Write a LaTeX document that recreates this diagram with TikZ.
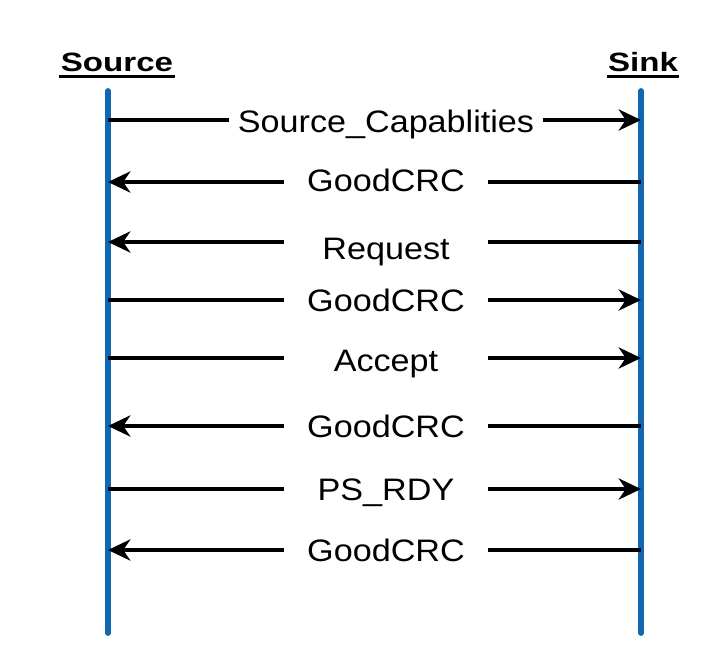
\documentclass[tikz,border=0pt]{standalone}
\usepackage{fontspec}
\newfontfamily\msgfont[FakeStretch=1.1]{Liberation Sans}
\newfontfamily\headfont[FakeStretch=1.25]{Liberation Sans}
\usetikzlibrary{arrows.meta}
\definecolor{lifeblue}{RGB}{16,104,178}

\tikzset{
  lifeline/.style={draw=lifeblue, line width=5pt, line cap=round},
  msgline/.style={draw=black, line width=3.6pt},
  msgarrow/.style={msgline, -{Stealth[length=19pt, width=18pt, inset=6pt]}},
  msglabel/.style={font=\msgfont\fontsize{26.5}{30}\selectfont,
                   inner xsep=0.25cm, inner ysep=0pt, minimum width=6.1cm,
                   text height=19pt, text depth=0pt},
  partname/.style={font=\headfont\bfseries\fontsize{22.6}{26}\selectfont,
                   inner xsep=1pt, inner ysep=0pt, anchor=base},
  underline/.style={draw=black, line width=2.6pt}
}

\begin{document}
\begin{tikzpicture}[x=0.03cm, y=-0.03cm]
  \useasboundingbox (0,0) rectangle (725,667);

  % parties
  \node[partname] (srcName) at (117,71) {Source};
  \node[partname] (snkName) at (643,71) {Sink};
  \draw[underline] ([yshift=-5pt]srcName.base west) -- ([yshift=-5pt]srcName.base east);
  \draw[underline] ([yshift=-5pt]snkName.base west) -- ([yshift=-5pt]snkName.base east);

  % lifelines
  \coordinate (srcTop) at (108,91);
  \coordinate (srcBot) at (108,633);
  \coordinate (snkTop) at (641,91);
  \coordinate (snkBot) at (641,633);
  \draw[lifeline] (srcTop) -- (srcBot);
  \draw[lifeline] (snkTop) -- (snkBot);

  % source -> sink
  \foreach \i/\y/\ly/\txt in {1/120/121/Source\_Capablities, 4/300/300/GoodCRC,
                              5/358/360/Accept, 7/489/489/PS\_RDY}{
    \coordinate (src\i) at (108,\y);
    \coordinate (snk\i) at (641,\y);
    \node[msglabel] (m\i) at (386,\ly) {\txt};
    \draw[msgline] (src\i) -- (src\i -| m\i.west);
    \draw[msgarrow] (snk\i -| m\i.east) -- (snk\i);
  }

  % sink -> source
  \foreach \i/\y/\ly/\txt in {2/182/180/GoodCRC, 3/242/248/Request,
                              6/426/426/GoodCRC, 8/550/550/GoodCRC}{
    \coordinate (src\i) at (108,\y);
    \coordinate (snk\i) at (641,\y);
    \node[msglabel] (m\i) at (386,\ly) {\txt};
    \draw[msgarrow] (src\i -| m\i.west) -- (src\i);
    \draw[msgline] (snk\i -| m\i.east) -- (snk\i);
  }
\end{tikzpicture}
\end{document}
